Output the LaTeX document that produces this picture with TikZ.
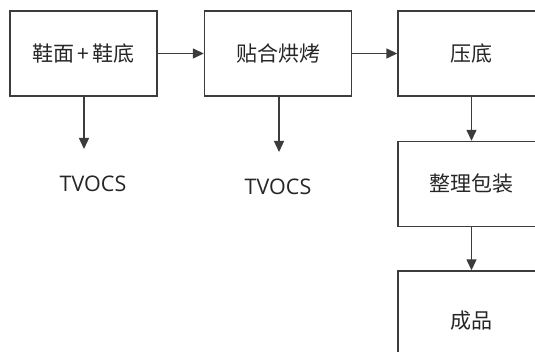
\documentclass[tikz,border=0pt]{standalone}
\usepackage{fontspec}
\setmainfont{Open Sans}
\newfontfamily\cjk{Noto Sans CJK SC}
\usetikzlibrary{arrows.meta}
\definecolor{ln}{HTML}{3C3C3C}
\definecolor{tx}{HTML}{262626}
\tikzset{
  stepbox/.style={draw=ln, line width=1.4pt, minimum width=147pt, minimum height=85pt, inner sep=0pt, font=\cjk\fontsize{21}{24}\selectfont, text=tx},
  lbl/.style={font=\fontsize{21.5}{25}\selectfont, text=tx, inner sep=0pt},
  arr/.style={draw=ln, line width=1.4pt, -{Triangle[length=11pt,width=10pt]}}
}
\begin{document}
\begin{tikzpicture}[x=1pt,y=-1pt]
\useasboundingbox (0,0) rectangle (535,352);
\clip (0,0) rectangle (535,352);
\node[stepbox] (b1) at (83.5,53.5) {鞋面\,+\,鞋底};
\node[stepbox] (b2) at (278,53.5) {贴合烘烤};
\node[stepbox] (b3) at (471.5,53.5) {压底};
\node[stepbox] (b4) at (471.5,184) {整理包装};
\node[stepbox,minimum height=100pt] (b5) at (471.5,321) {成品};
\node[lbl] (t1) at (93,184) {TVOCS};
\node[lbl] (t2) at (278,187) {TVOCS};
\coordinate (e1) at (84,149);
\coordinate (e2) at (279,152);
\draw[arr] (b1) -- (b2);
\draw[arr] (b2) -- (b3);
\draw[arr] (b3) -- (b4);
\draw[arr] (b4) -- (b5);
\draw[arr] (b1.south -| e1) -- (e1);
\draw[arr] (b2.south -| e2) -- (e2);
\end{tikzpicture}
\end{document}
